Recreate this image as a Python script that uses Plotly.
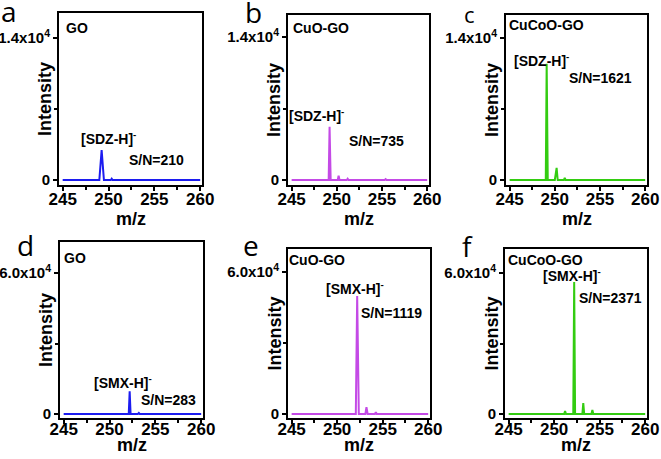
import plotly.graph_objects as go

W, H = 661, 459

# ---------------- data ----------------
mz_a = [245, 249.0, 249.25, 249.5, 250.25, 250.35, 250.45, 260]
int_a = [0, 0, 2950, 0, 0, 120, 0, 0]

mz_b = [245, 249.1, 249.2, 249.32, 250.1, 250.2, 250.3, 251.1, 251.2, 251.3, 255.3, 255.4, 255.5, 260]
int_b = [0, 0, 5200, 0, 0, 420, 0, 0, 120, 0, 0, 90, 0, 0]

mz_c = [245, 249.0, 249.1, 249.22, 250.0, 250.1, 250.2, 250.32, 251.0, 251.1, 251.2, 260]
int_c = [0, 0, 11450, 0, 0, 600, 1200, 0, 0, 220, 0, 0]

mz_d = [245, 252.1, 252.2, 252.3, 253.1, 253.2, 253.3, 254.2, 254.3, 254.4, 260]
int_d = [0, 0, 9700, 0, 0, 450, 0, 0, 120, 0, 0]

mz_e = [245, 252.05, 252.2, 252.38, 253.1, 253.22, 253.35, 254.15, 254.25, 254.35, 260]
int_e = [0, 0, 49900, 0, 0, 2900, 0, 0, 800, 0, 0]

mz_f = [245, 247.1, 247.2, 247.3, 251.1, 251.2, 251.3, 252.1, 252.2, 252.3,
        253.1, 253.2, 253.3, 254.1, 254.2, 254.3, 260]
int_f = [0, 0, 250, 0, 0, 1200, 0, 0, 56200, 0,
         0, 4600, 0, 0, 1700, 0, 0]

samples = ["GO", "CuO-GO", "CuCoO-GO", "GO", "CuO-GO", "CuCoO-GO"]
ions = ["[SDZ-H]<sup>-</sup>"] * 3 + ["[SMX-H]<sup>-</sup>"] * 3
sn_labels = ["S/N=210", "S/N=735", "S/N=1621", "S/N=283", "S/N=1119", "S/N=2371"]
panel_letters = ["a", "b", "c", "d", "e", "f"]
x_ticks = [245, 250, 255, 260]
x_minor = [247.5, 252.5, 257.5]
y_top_vals = [14000, 14000, 14000, 60000, 60000, 60000]
y_top_text = ["1.4x10<sup>4</sup>"] * 3 + ["6.0x10<sup>4</sup>"] * 3
colors = ["#1c1cf0", "#c44ae6", "#33cc11", "#1c1cf0", "#c44ae6", "#33cc11"]

series = [(mz_a, int_a), (mz_b, int_b), (mz_c, int_c),
          (mz_d, int_d), (mz_e, int_e), (mz_f, int_f)]

# ---------------- layout geometry (pixels) ----------------
# box x0, x1, y0(top), y1(bottom), pixel of zero, pixel of top tick, x-title y, tick label standoff
boxes = [
    (59, 202, 13, 185, 180, 38, 219, -6),
    (288, 429, 15, 185, 180, 37, 219, -6),
    (506, 647, 15, 185, 180, 38, 219, -6),
    (60, 203, 242, 418, 414, 273, 445, -9),
    (288, 430, 249, 418, 414, 272, 445, -9),
    (505, 647, 249, 418, 414, 273, 445, -9),
]
# annotation pixel positions: (sample label x,y), (ion x,y), (S/N x,y), (letter x,y, size)
ann_pos = [
    ((64, 28), (79, 138), (127, 160), (9, 11, 28)),
    ((291, 28), (287, 115), (347, 141), (253, 12, 28)),
    ((507, 25), (512, 60), (567, 78), (469, 14, 22)),
    ((62, 258), (92, 382), (139, 400), (25, 245, 28)),
    ((287, 260), (324, 288), (359, 313), (251, 245, 28)),
    ((506, 260), (541, 275), (577, 298), (467, 246, 28)),
]

FONT = "Liberation Sans, Arial, sans-serif"
fig = go.Figure()
annotations = []
layout = {}

def px_x(p):
    return p / W

def px_y(p):
    return 1 - p / H

for i in range(6):
    x0, x1, y0, y1, yz, yt, ty, stand = boxes[i]
    ppu = (yz - yt) / y_top_vals[i]
    ymin = -(y1 - yz) / ppu
    ymax = (yz - y0) / ppu
    xr = [244.6, 260.2]
    n = "" if i == 0 else str(i + 1)
    mz, inten = series[i]
    fig.add_trace(go.Scatter(x=mz, y=inten, mode="lines",
                             line=dict(color=colors[i], width=2),
                             xaxis="x" + n, yaxis="y" + n, showlegend=False))
    layout["xaxis" + n] = dict(
        domain=[px_x(x0), px_x(x1)], range=xr, anchor="y" + n, automargin=False,
        showline=True, mirror=True, linecolor="black", linewidth=2,
        ticks="outside", ticklen=4, tickwidth=2, tickcolor="black",
        tickvals=x_ticks, ticktext=[str(v) for v in x_ticks],
        minor=dict(tickvals=x_minor, ticks="outside", ticklen=3, tickwidth=1.5, tickcolor="black"),
        showgrid=False, zeroline=False, ticklabelstandoff=stand,
        tickfont=dict(family=FONT, size=17, color="black", weight="bold"),
    )
    layout["yaxis" + n] = dict(
        domain=[px_y(y1), px_y(y0)], range=[ymin, ymax], anchor="x" + n, automargin=False,
        showline=True, mirror=True, linecolor="black", linewidth=2,
        ticks="outside", ticklen=4, tickwidth=2, tickcolor="black",
        tickvals=[0, y_top_vals[i]], ticktext=["0", y_top_text[i]],
        minor=dict(tickvals=[y_top_vals[i] / 2], ticks="outside", ticklen=3, tickwidth=1.5, tickcolor="black"),
        showgrid=False, zeroline=False,
        tickfont=dict(family=FONT, size=15, color="black", weight="bold"),
    )
    (sx, sy), (ix, iy), (nx, ny), (lx, ly, lsz) = ann_pos[i]
    bold = dict(family=FONT, size=14, color="black", weight="bold")
    annotations.append(dict(x=px_x(sx), y=px_y(sy), xref="paper", yref="paper",
                            text=samples[i], showarrow=False, xanchor="left", yanchor="middle", font=bold))
    annotations.append(dict(x=px_x(ix), y=px_y(iy), xref="paper", yref="paper",
                            text=ions[i], showarrow=False, xanchor="left", yanchor="middle", font=bold))
    annotations.append(dict(x=px_x(nx), y=px_y(ny), xref="paper", yref="paper",
                            text=sn_labels[i], showarrow=False, xanchor="left", yanchor="middle", font=bold))
    annotations.append(dict(x=px_x(lx), y=px_y(ly), xref="paper", yref="paper",
                            text=panel_letters[i], showarrow=False, xanchor="center", yanchor="middle",
                            font=dict(family="Open Sans, sans-serif", size=lsz, color="black")))
    # axis titles
    annotations.append(dict(x=px_x(x0 - 14), y=px_y((y0 + y1) / 2), xref="paper", yref="paper",
                            text="Intensity", showarrow=False, textangle=-90,
                            xanchor="center", yanchor="middle",
                            font=dict(family=FONT, size=18, color="black", weight="bold")))
    annotations.append(dict(x=px_x((x0 + x1) / 2), y=px_y(ty), xref="paper", yref="paper",
                            text="m/z", showarrow=False, xanchor="center", yanchor="middle",
                            font=dict(family=FONT, size=18, color="black", weight="bold")))

fig.update_layout(
    width=W, height=H, margin=dict(l=0, r=0, t=0, b=0),
    paper_bgcolor="white", plot_bgcolor="white",
    annotations=annotations, **layout,
)
fig.write_html("out.html", config={"displayModeBar": False},
               post_script="document.body.style.margin='0px';")
